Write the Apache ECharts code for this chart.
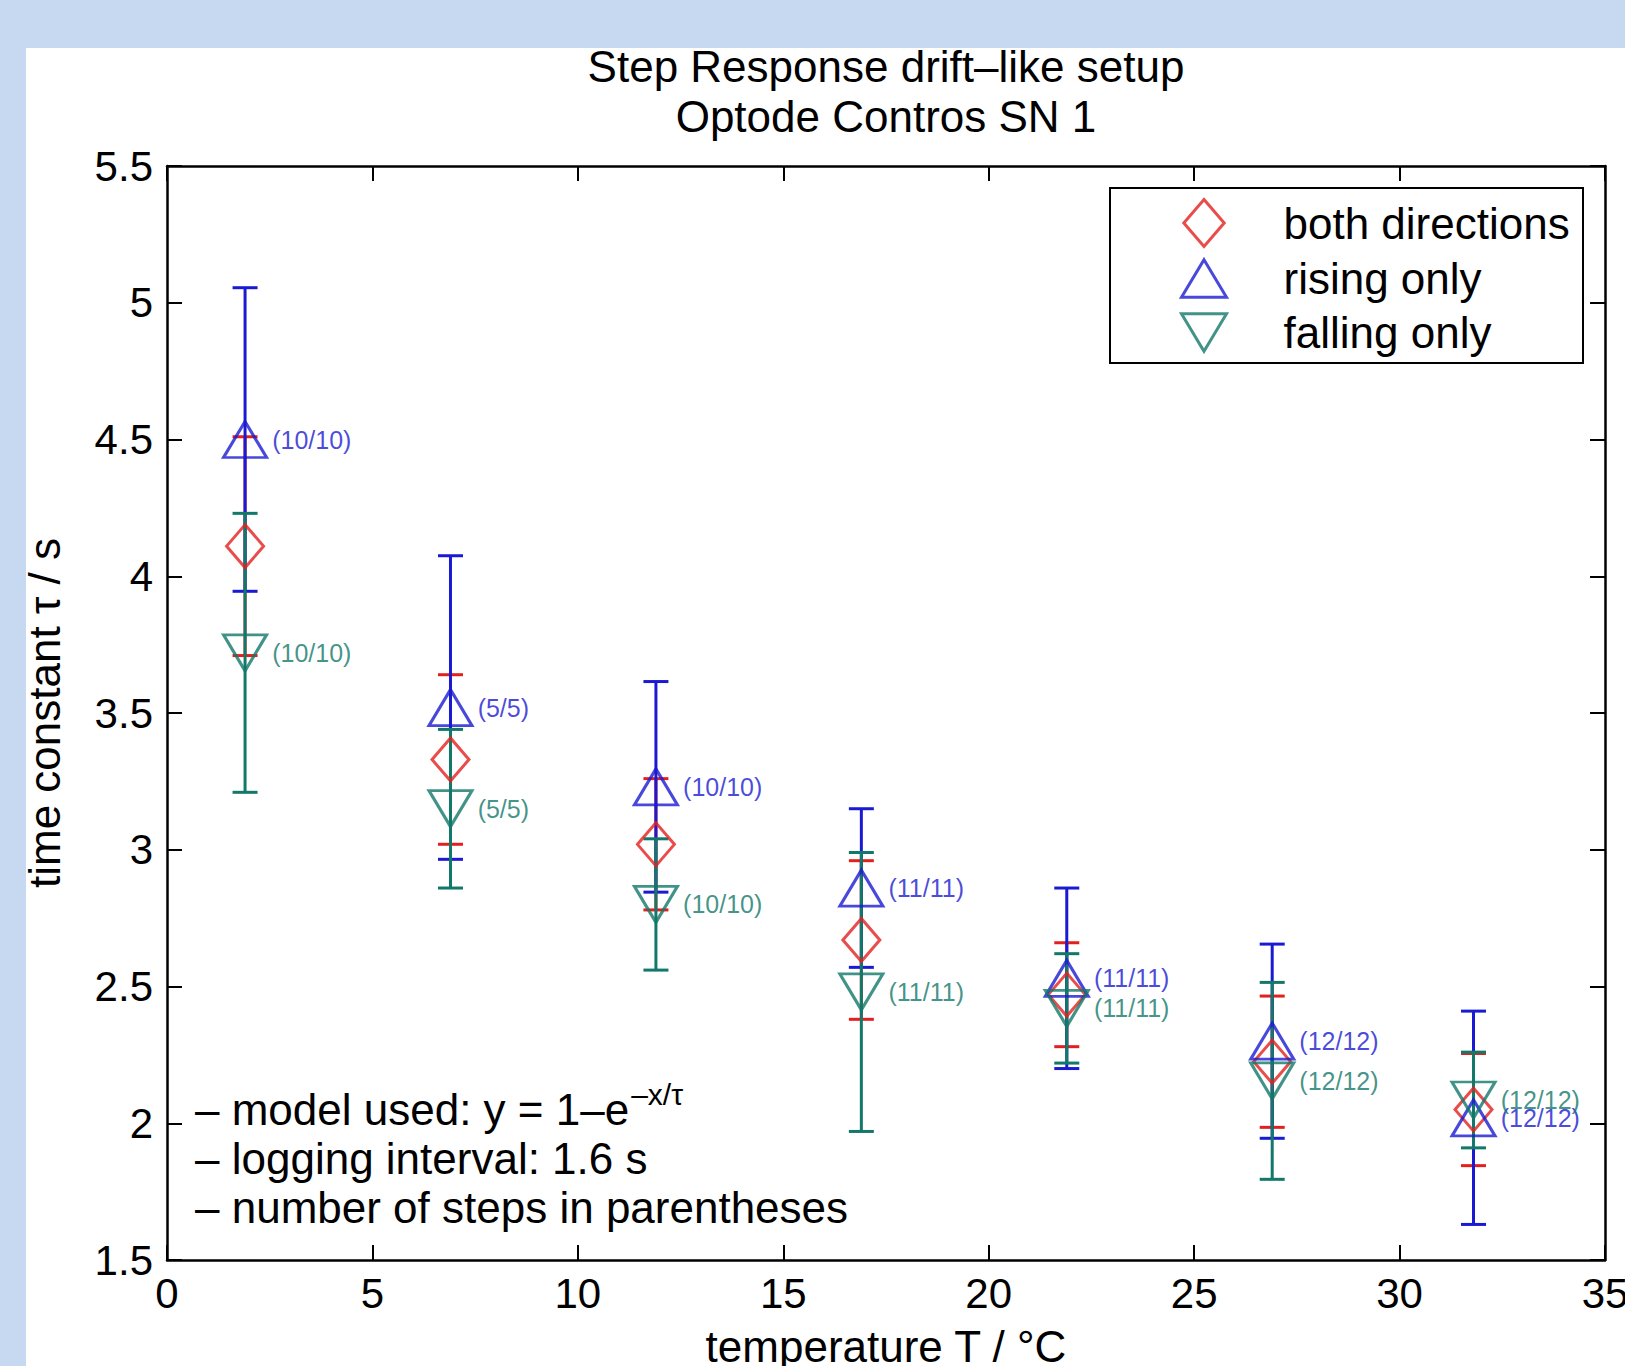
<!DOCTYPE html>
<html>
<head>
<meta charset="utf-8">
<script src="https://cdn.jsdelivr.net/npm/echarts@6/dist/echarts.min.js"></script>
<style>
  html, body { margin: 0; padding: 0; background: #c6d9f0; overflow: hidden; }
  #panel { position: absolute; left: 26px; top: 48px; width: 1599px; height: 1318px; background: #ffffff; }
  #chart { position: absolute; left: 0; top: 0; width: 1625px; height: 1366px; }
</style>
</head>
<body>
<div id="panel"></div>
<div id="chart"></div>
<script>
// ---- data ----
const temps = [1.9, 6.9, 11.9, 16.9, 21.9, 26.9, 31.8];

const bothVals  = [4.11, 3.33, 3.02, 2.67, 2.47, 2.225, 2.05];
const bothErr   = [0.40, 0.31, 0.24, 0.29, 0.19, 0.24, 0.205];

const risingVals = [4.50, 3.52, 3.23, 2.86, 2.53, 2.30, 2.02];
const risingErr  = [0.555, 0.555, 0.385, 0.29, 0.33, 0.355, 0.39];

const fallingVals = [3.72, 3.15, 2.80, 2.48, 2.42, 2.155, 2.085];
const fallingErr  = [0.51, 0.29, 0.24, 0.51, 0.20, 0.36, 0.175];

const risingCounts  = ['(10/10)', '(5/5)', '(10/10)', '(11/11)', '(11/11)', '(12/12)', '(12/12)'];
const fallingCounts = ['(10/10)', '(5/5)', '(10/10)', '(11/11)', '(11/11)', '(12/12)', '(12/12)'];

const xTicks = [0, 5, 10, 15, 20, 25, 30, 35];
const yTicks = [1.5, 2, 2.5, 3, 3.5, 4, 4.5, 5, 5.5];

const seriesNames = ['both directions', 'rising only', 'falling only'];
const titleLines = ['Step Response drift\u2013like setup', 'Optode Contros SN 1'];
const noteLines = ['\u2013 model used: y = 1\u2013e', '\u2013 logging interval: 1.6 s', '\u2013 number of steps in parentheses'];
const noteSup = '\u2013x/\u03c4';

// ---- styling ----
const FONT = '"Liberation Sans", Arial, Helvetica, sans-serif';
const RED = '#e3201e', BLUE = '#1a1ad2', GREEN = '#12786a';
const DIAMOND = 'path://M0,-1L0.86,0L0,1L-0.86,0Z';
const TRI_UP = 'path://M0,-1L1.2,1L-1.2,1Z';
const TRI_DOWN = 'path://M0,1L1.2,-1L-1.2,-1Z';

function errRender(color) {
  return function (params, api) {
    const x = api.value(0), y = api.value(1), e = api.value(2);
    const top = api.coord([x, y + e]);
    const bot = api.coord([x, y - e]);
    const hw = 12.5;
    const style = { stroke: color, lineWidth: 3 };
    return {
      type: 'group',
      children: [
        { type: 'line', shape: { x1: top[0], y1: top[1], x2: bot[0], y2: bot[1] }, style: style },
        { type: 'line', shape: { x1: top[0] - hw, y1: top[1], x2: top[0] + hw, y2: top[1] }, style: style },
        { type: 'line', shape: { x1: bot[0] - hw, y1: bot[1], x2: bot[0] + hw, y2: bot[1] }, style: style }
      ]
    };
  };
}

function errSeries(vals, errs, color, id) {
  return {
    type: 'custom',
    id: id,
    renderItem: errRender(color),
    encode: { x: 0, y: 1 },
    data: temps.map((t, i) => [t, vals[i], errs[i]]),
    silent: true,
    z: 2
  };
}

function markSeries(name, vals, symbol, size, color, counts) {
  const s = {
    type: 'scatter',
    name: name,
    symbol: symbol,
    symbolSize: size,
    data: temps.map((t, i) => [t, vals[i]]),
    itemStyle: { color: 'rgba(0,0,0,0)', borderColor: color, borderWidth: 3 },
    emphasis: { disabled: true },
    z: 3
  };
  if (counts) {
    s.label = {
      show: true,
      position: 'right',
      distance: 4,
      formatter: p => counts[p.dataIndex],
      color: color,
      fontSize: 25,
      fontFamily: FONT
    };
  }
  return s;
}

const axisLineStyle = { color: '#000', width: 2.5 };
const tickStyle = { show: true, inside: true, length: 15, lineStyle: { color: '#000', width: 2 } };

const chart = echarts.init(document.getElementById('chart'), null, { renderer: 'svg', width: 1625, height: 1366 });

chart.setOption({
  animation: false,
  backgroundColor: 'transparent',
  textStyle: { fontFamily: FONT },
  grid: { left: 167, top: 166, width: 1438, height: 1094, containLabel: false, outerBoundsMode: 'none' },
  xAxis: [
    {
      type: 'value', min: xTicks[0], max: xTicks[xTicks.length - 1], interval: 5,
      position: 'bottom',
      axisLine: { show: true, onZero: false, lineStyle: axisLineStyle },
      axisTick: tickStyle,
      axisLabel: { show: true, fontSize: 42, color: '#000', margin: 12, fontFamily: FONT },
      splitLine: { show: false },
      name: 'temperature T / \u00b0C',
      nameLocation: 'middle',
      nameGap: 64,
      nameTextStyle: { fontSize: 44, color: '#000', fontFamily: FONT, verticalAlign: 'top' }
    },
    {
      type: 'value', min: xTicks[0], max: xTicks[xTicks.length - 1], interval: 5,
      position: 'top',
      axisLine: { show: true, onZero: false, lineStyle: axisLineStyle },
      axisTick: tickStyle,
      axisLabel: { show: false },
      splitLine: { show: false }
    }
  ],
  yAxis: [
    {
      type: 'value', min: yTicks[0], max: yTicks[yTicks.length - 1], interval: 0.5,
      position: 'left',
      axisLine: { show: true, onZero: false, lineStyle: axisLineStyle },
      axisTick: tickStyle,
      axisLabel: { show: true, fontSize: 42, color: '#000', margin: 14, fontFamily: FONT },
      splitLine: { show: false },
      name: 'time constant \u03c4 / s',
      nameLocation: 'middle',
      nameGap: 101,
      nameRotate: 90,
      nameTextStyle: { fontSize: 44, color: '#000', fontFamily: FONT }
    },
    {
      type: 'value', min: yTicks[0], max: yTicks[yTicks.length - 1], interval: 0.5,
      position: 'right',
      axisLine: { show: true, onZero: false, lineStyle: axisLineStyle },
      axisTick: tickStyle,
      axisLabel: { show: false },
      splitLine: { show: false }
    }
  ],
  legend: {
    data: seriesNames,
    orient: 'vertical',
    left: 1180,
    top: 198,
    padding: 0,
    itemWidth: 45,
    itemHeight: 47,
    itemGap: 7,
    symbolKeepAspect: true,
    selectedMode: false,
    itemStyle: { borderWidth: 3 },
    textStyle: { fontSize: 44, color: '#000', fontFamily: FONT, lineHeight: 47, padding: [0, 0, 0, 52] }
  },
  graphic: [
    { type: 'rect', shape: { x: 1110, y: 188, width: 473, height: 175 },
      style: { fill: 'none', stroke: '#000', lineWidth: 2 }, z: 10 },
    { type: 'text', x: 886, y: 66, z: 10,
      style: { text: titleLines[0], font: '44px ' + FONT, fill: '#000', textAlign: 'center', textVerticalAlign: 'middle' } },
    { type: 'text', x: 886, y: 116, z: 10,
      style: { text: titleLines[1], font: '44px ' + FONT, fill: '#000', textAlign: 'center', textVerticalAlign: 'middle' } },
    { type: 'text', x: 195, y: 1109, z: 10,
      style: {
        text: noteLines[0] + '{sup|' + noteSup + '}',
        font: '44px ' + FONT, fill: '#000', textAlign: 'left', textVerticalAlign: 'middle',
        rich: { sup: { fontSize: 30, fontFamily: FONT, fill: '#000', verticalAlign: 'top', padding: [0, 0, 30, 2] } }
      } },
    { type: 'text', x: 195, y: 1158, z: 10,
      style: { text: noteLines[1], font: '44px ' + FONT, fill: '#000', textAlign: 'left', textVerticalAlign: 'middle' } },
    { type: 'text', x: 195, y: 1207, z: 10,
      style: { text: noteLines[2], font: '44px ' + FONT, fill: '#000', textAlign: 'left', textVerticalAlign: 'middle' } }
  ],
  series: [
    errSeries(bothVals, bothErr, RED, 'errBoth'),
    markSeries(seriesNames[0], bothVals, DIAMOND, [37, 43], RED, null),
    errSeries(risingVals, risingErr, BLUE, 'errRising'),
    markSeries(seriesNames[1], risingVals, TRI_UP, [43, 36], BLUE, risingCounts),
    errSeries(fallingVals, fallingErr, GREEN, 'errFalling'),
    markSeries(seriesNames[2], fallingVals, TRI_DOWN, [43, 36], GREEN, fallingCounts)
  ]
});
</script>
</body>
</html>
